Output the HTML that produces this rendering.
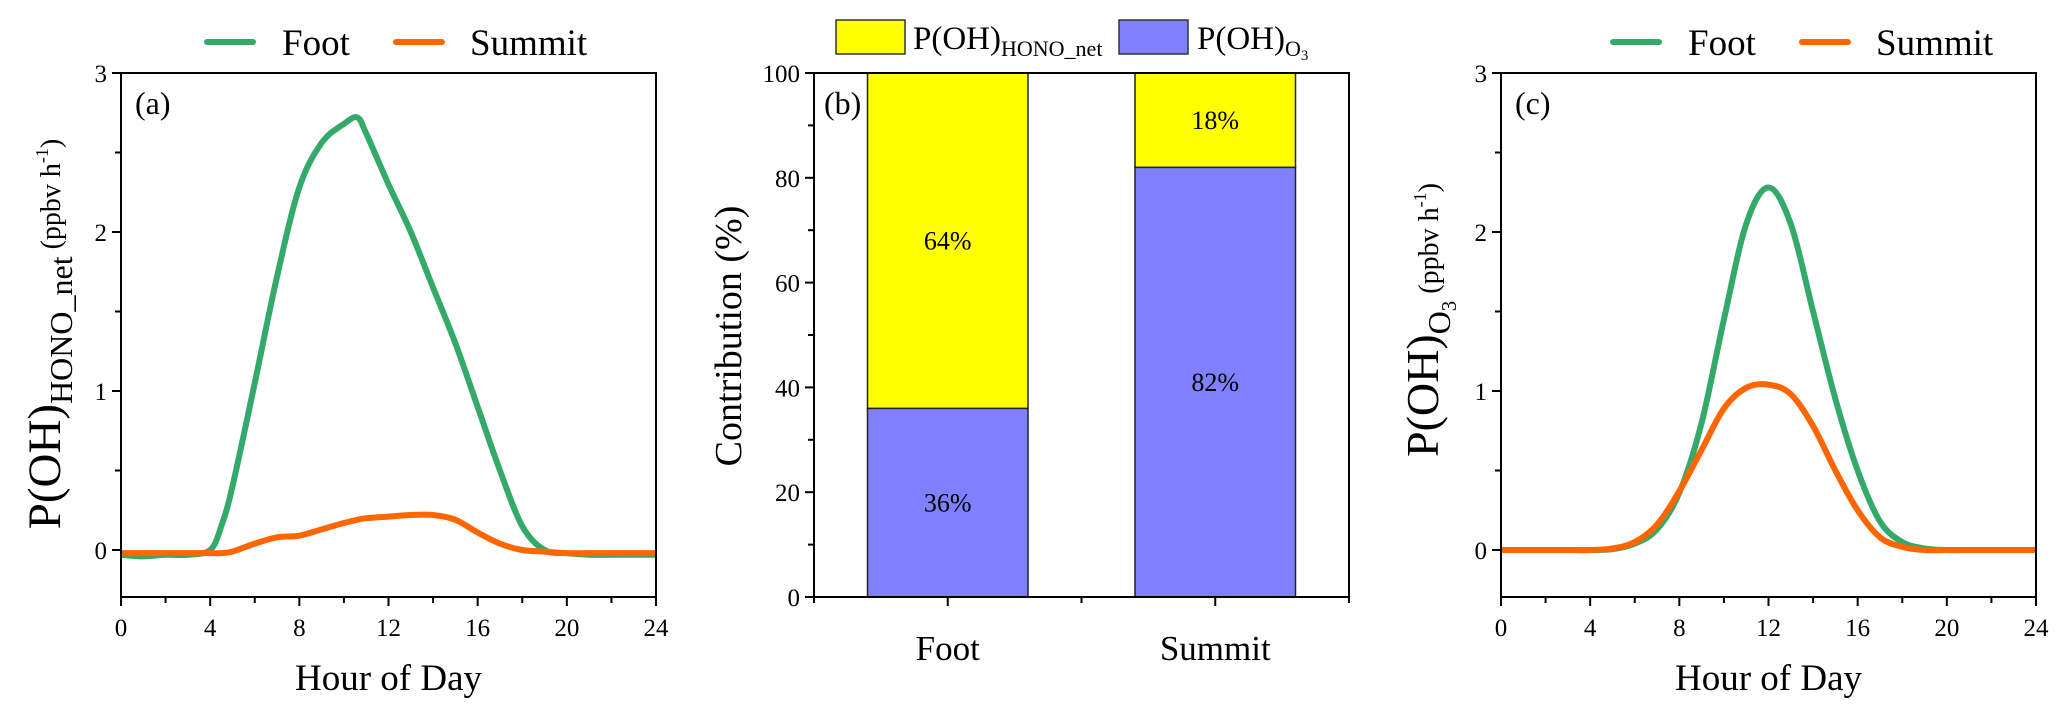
<!DOCTYPE html>
<html><head><meta charset="utf-8">
<style>
html,body{margin:0;padding:0;background:#fff;}
svg{display:block;font-family:"Liberation Serif",serif;}
</style></head>
<body>
<svg id="fig" width="2067" height="712" viewBox="0 0 2067 712" xmlns="http://www.w3.org/2000/svg"></svg>
<script>
const hoursA = [0,1,2,3,4,4.5,5,6,7,8,9,10,10.6,11,12,13,14,15,16,17,18,19,20,21,22,23,24];
const footA  = [-0.03,-0.04,-0.03,-0.03,0,0.15,0.4,1.05,1.72,2.28,2.56,2.68,2.72,2.62,2.3,2.0,1.65,1.3,0.9,0.5,0.15,0.0,-0.02,-0.03,-0.03,-0.03,-0.03];
const summitA= [-0.02,-0.02,-0.02,-0.02,-0.02,-0.02,-0.01,0.04,0.08,0.09,0.13,0.17,0.19,0.2,0.21,0.22,0.22,0.19,0.11,0.04,0.0,-0.01,-0.02,-0.02,-0.02,-0.02,-0.02];
const hoursC = [0,1,2,3,4,5,6,7,8,9,10,11,12,13,14,15,16,17,18,19,20,21,22,23,24];
const footC  = [0,0,0,0,0,0.005,0.04,0.13,0.36,0.8,1.45,2.05,2.28,2.05,1.5,0.95,0.5,0.18,0.05,0.01,0,0,0,0,0];
const summitC= [0,0,0,0,0,0.01,0.05,0.16,0.37,0.63,0.89,1.02,1.04,0.98,0.78,0.5,0.25,0.08,0.02,0,0,0,0,0,0];
const categories = ["Foot","Summit"];
const o3Share = [36,82];
const honoShare = [64,18];
const xTicks = [0,4,8,12,16,20,24];
const yTicksLine = [0,1,2,3];
const yTicksBar = [0,20,40,60,80,100];

const NS="http://www.w3.org/2000/svg";
const svg=document.getElementById('fig');
function el(tag,attrs,parent,text){const e=document.createElementNS(NS,tag);for(const k in attrs)e.setAttribute(k,attrs[k]);if(text!==undefined)e.textContent=text;(parent||svg).appendChild(e);return e;}
const TOP=73,BOT=597,Y0=550;
function yLine(v){return Y0-v*(Y0-TOP)/3;}

function smoothPath(xs,ys){
  let d=`M${xs[0].toFixed(2)},${ys[0].toFixed(2)}`;
  for(let i=0;i<xs.length-1;i++){
    const x0=xs[Math.max(0,i-1)],y0=ys[Math.max(0,i-1)],x1=xs[i],y1=ys[i],x2=xs[i+1],y2=ys[i+1],x3=xs[Math.min(xs.length-1,i+2)],y3=ys[Math.min(xs.length-1,i+2)];
    const t=1/6;
    d+=` C${(x1+(x2-x0)*t).toFixed(2)},${(y1+(y2-y0)*t).toFixed(2)} ${(x2-(x3-x1)*t).toFixed(2)},${(y2-(y3-y1)*t).toFixed(2)} ${x2.toFixed(2)},${y2.toFixed(2)}`;
  }
  return d;
}

function linePanel(id,L,R,hours,foot,summit,label){
  const g=el('g',{}, svg);
  
  
  const xs=h=>L+h*(R-L)/24;
  for(let h=0;h<=24;h+=2){
    const major=xTicks.includes(h);
    el('line',{x1:xs(h),x2:xs(h),y1:BOT,y2:BOT+(major?9:6),stroke:'#000','stroke-width':2},g);
  }
  xTicks.forEach(h=>{const t=el('text',{x:xs(h),y:636,'font-size':25,'text-anchor':'middle'},g,String(h));});
  for(let v=0;v<=3;v+=0.5){
    const major=Number.isInteger(v);
    el('line',{x1:L,x2:L-(major?9:6),y1:yLine(v),y2:yLine(v),stroke:'#000','stroke-width':2},g);
  }
  yTicksLine.forEach(v=>{const t=el('text',{x:L-14,y:yLine(v)+9,'font-size':25,'text-anchor':'end'},g,String(v));});
  const fp=el('path',{d:smoothPath(hours.map(xs),foot.map(yLine)),fill:'none',stroke:'#33a96a','stroke-width':6,'stroke-linejoin':'round'},g);
  
  const sp=el('path',{d:smoothPath(hours.map(xs),summit.map(yLine)),fill:'none',stroke:'#ff6600','stroke-width':6,'stroke-linejoin':'round'},g);
  
  el('rect',{x:L,y:TOP,width:R-L,height:BOT-TOP,fill:'none',stroke:'#000','stroke-width':2},g);
  const pl=el('text',{x:L+14,y:TOP+41,'font-size':32},g,label);
  
  const xt=el('text',{x:(L+R)/2,y:690,'font-size':37,'text-anchor':'middle'},g,'Hour of Day');
  
  return g;
}
function legendLines(x0){
  const g=el('g',{});
  
  el('line',{x1:x0,x2:x0+46,y1:42,y2:42,stroke:'#33a96a','stroke-width':6,'stroke-linecap':'round'},g);
  el('text',{x:x0+75,y:55,'font-size':37},g,'Foot');
  el('line',{x1:x0+189,x2:x0+235,y1:42,y2:42,stroke:'#ff6600','stroke-width':6,'stroke-linecap':'round'},g);
  el('text',{x:x0+263,y:55,'font-size':37},g,'Summit');
}

linePanel('panel-a',121,656,hoursA,footA,summitA,'(a)');
legendLines(207);
const ya=el('text',{transform:'translate(60,334) rotate(-90)','text-anchor':'middle','font-size':47});

ya.innerHTML='P(OH)<tspan font-size="32" dy="12">HONO_net</tspan><tspan font-size="28" dy="-12"> (ppbv h</tspan><tspan font-size="18" dy="-12">-1</tspan><tspan font-size="28" dy="12">)</tspan>';

linePanel('panel-c',1501,2036,hoursC,footC,summitC,'(c)');
legendLines(1613);
const yc=el('text',{transform:'translate(1438,320) rotate(-90)','text-anchor':'middle','font-size':46});

yc.innerHTML='P(OH)<tspan font-size="32" dy="12">O</tspan><tspan font-size="21" dy="6">3</tspan><tspan font-size="28" dy="-18"> (ppbv h</tspan><tspan font-size="18" dy="-12">-1</tspan><tspan font-size="28" dy="12">)</tspan>';

(function(){
  const L=814,R=1349;
  const g=el('g',{});
  
  const xb=c=>L+(c-0.5)*(R-L)/2;
  const yb=v=>BOT-v*(BOT-TOP)/100;
  const bw=0.6*(R-L)/2;
  categories.forEach((c,i)=>{
    const cx=xb(i+1);
    const r1=el('rect',{x:cx-bw/2,y:yb(o3Share[i]),width:bw,height:yb(0)-yb(o3Share[i]),fill:'#8080ff',stroke:'#222','stroke-width':1.5},g);
    
    const top=o3Share[i]+honoShare[i];
    const r2=el('rect',{x:cx-bw/2,y:yb(top),width:bw,height:yb(o3Share[i])-yb(top),fill:'#ffff00',stroke:'#222','stroke-width':1.5},g);
    
    const t1=el('text',{x:cx,y:(yb(0)+yb(o3Share[i]))/2+9,'font-size':26,'text-anchor':'middle'},g,o3Share[i]+'%');
    
    const t2=el('text',{x:cx,y:(yb(o3Share[i])+yb(top))/2+9,'font-size':26,'text-anchor':'middle'},g,honoShare[i]+'%');
    
    el('line',{x1:cx,x2:cx,y1:BOT,y2:BOT+9,stroke:'#000','stroke-width':2},g);
    const ct=el('text',{x:cx,y:660,'font-size':35,'text-anchor':'middle'},g,c);
    
  });
  [0.5,1.5,2.5].forEach(c=>el('line',{x1:xb(c),x2:xb(c),y1:BOT,y2:BOT+6,stroke:'#000','stroke-width':2},g));
  for(let v=0;v<=100;v+=10){
    const major=v%20===0;
    el('line',{x1:L,x2:L-(major?9:6),y1:yb(v),y2:yb(v),stroke:'#000','stroke-width':2},g);
  }
  yTicksBar.forEach(v=>{const t=el('text',{x:L-14,y:yb(v)+9,'font-size':25,'text-anchor':'end'},g,String(v));});
  el('rect',{x:L,y:TOP,width:R-L,height:BOT-TOP,fill:'none',stroke:'#000','stroke-width':2},g);
  el('text',{x:L+10,y:TOP+41,'font-size':32},g,'(b)');
  const yt=el('text',{transform:'translate(741,336) rotate(-90)','text-anchor':'middle','font-size':38},g,'Contribution (%)');
  
  const lg=el('g',{});
  
  el('rect',{x:836,y:20,width:69,height:34,fill:'#ffff00',stroke:'#333','stroke-width':1.5},lg);
  el('text',{x:913,y:49,'font-size':33},lg).innerHTML='P(OH)<tspan font-size="22" dy="7">HONO_net</tspan>';
  el('rect',{x:1119,y:20,width:69,height:34,fill:'#8080ff',stroke:'#333','stroke-width':1.5},lg);
  el('text',{x:1197,y:49,'font-size':33},lg).innerHTML='P(OH)<tspan font-size="22" dy="7">O</tspan><tspan font-size="15" dy="4">3</tspan>';
})();
</script>
</body></html>
